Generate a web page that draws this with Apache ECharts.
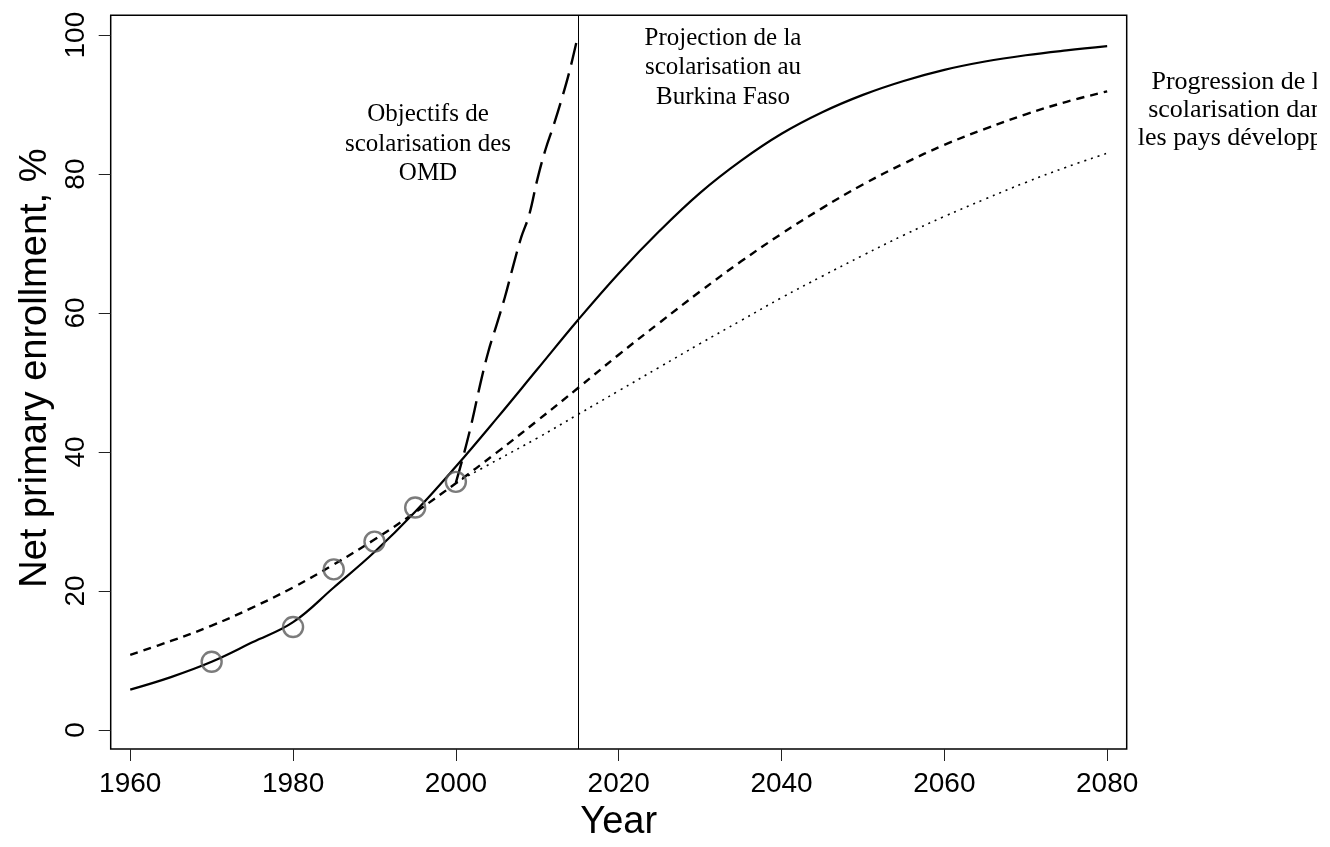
<!DOCTYPE html>
<html>
<head>
<meta charset="utf-8">
<script src="https://cdn.jsdelivr.net/npm/echarts@6/dist/echarts.min.js"></script>
<style>
html,body{margin:0;padding:0;background:#fff;}
#chart{width:1330px;height:847px;}
</style>
</head>
<body>
<div id="chart"></div>
<script>
// ---- data ----
const years = [1960,1965,1970,1975,1980,1985,1990,1995,2000,2005,2010,2015,2020,2025,2030,2035,2040,2045,2050,2055,2060,2065,2070,2075,2080];
const burkinaFit = [5.8,7.6,9.8,12.6,15.5,20.5,25.6,31.4,37.9,44.8,51.9,59.0,65.7,71.8,77.3,81.9,85.8,88.9,91.4,93.4,95.0,96.2,97.1,97.8,98.4];
const developedFit = [10.8,12.8,15.0,17.6,20.5,23.8,27.4,31.3,35.5,39.9,44.5,49.2,54.0,58.6,63.1,67.4,71.4,75.1,78.5,81.5,84.2,86.5,88.6,90.4,91.9];
const slowYears = [2000,2005,2010,2015,2020,2025,2030,2035,2040,2045,2050,2055,2060,2065,2070,2075,2080];
const slowFit = [35.6,38.8,42.0,45.4,48.8,52.2,55.6,58.9,62.2,65.3,68.3,71.2,73.9,76.4,78.8,81.0,83.0];
const mdgYears = [2000,2001,2002,2003,2004,2005,2006,2007,2008,2009,2010,2011,2012,2013,2014,2015];
const mdgVals = [35.6,39.8,44.5,49.8,54.5,58.3,62.2,66.6,70.8,74.1,79.2,83.5,87.0,90.8,95.0,100.0];
const obsYears = [1970,1980,1985,1990,1995,2000];
const obsVals = [9.8,14.8,23.1,27.1,32.0,35.7];
const xTicks = [1960,1980,2000,2020,2040,2060,2080];
const yTicks = [0,20,40,60,80,100];
const cutYear = 2015;
const labelMdg = 'Objectifs de\nscolarisation des\nOMD';
const labelProj = 'Projection de la\nscolarisation au\nBurkina Faso';
const labelDev = 'Progression de la\nscolarisation dans\nles pays développés';

const pairs = (xs, ys) => xs.map((x, i) => [x, ys[i]]);

const chart = echarts.init(document.getElementById('chart'), null, {renderer: 'canvas'});
const serif = '"Liberation Serif", "Times New Roman", serif';
const sans = '"Liberation Sans", Arial, Helvetica, sans-serif';
const plain = v => String(v);

chart.setOption({
  animation: false,
  backgroundColor: '#fff',
  grid: {left: 110.7, right: 203.3, top: 15.3, bottom: 91.7, show: true, borderColor: '#000', borderWidth: 1.5, backgroundColor: 'transparent'},
  xAxis: {
    type: 'value', min: 1957.6, max: 2082.4,
    name: 'Year', nameLocation: 'middle', nameGap: 55,
    nameTextStyle: {fontFamily: sans, fontSize: 38, color: '#000'},
    axisLine: {show: false, onZero: false},
    axisTick: {show: true, inside: false, length: 12, customValues: xTicks, lineStyle: {color: '#222', width: 1}},
    axisLabel: {customValues: xTicks, formatter: plain, fontFamily: sans, fontSize: 28, color: '#000', margin: 21},
    splitLine: {show: false}
  },
  yAxis: {
    type: 'value', min: -2.75, max: 102.85,
    name: 'Net primary enrollment, %', nameLocation: 'middle', nameGap: 54,
    nameTextStyle: {fontFamily: sans, fontSize: 38, color: '#000', padding: [0, 0, 0, 28]},
    axisLine: {show: false, onZero: false},
    axisTick: {show: true, inside: false, length: 12, customValues: yTicks, lineStyle: {color: '#222', width: 1}},
    axisLabel: {customValues: yTicks, formatter: plain, rotate: 90, fontFamily: sans, fontSize: 28, color: '#000', margin: 20},
    splitLine: {show: false}
  },
  series: [
    {
      type: 'line', data: pairs(years, burkinaFit), smooth: 0.4, symbol: 'none',
      lineStyle: {color: '#000', width: 2.2},
      markLine: {silent: true, symbol: 'none', label: {show: false},
        lineStyle: {color: '#000', width: 1, type: 'solid'}, data: [{xAxis: cutYear}]},
      z: 3
    },
    {
      type: 'line', data: pairs(years, developedFit), smooth: 0.4, symbol: 'none',
      lineStyle: {color: '#000', width: 2.4, type: [8, 6], cap: 'butt'}, z: 3
    },
    {
      type: 'line', data: pairs(slowYears, slowFit), smooth: 0.4, symbol: 'none',
      lineStyle: {color: '#000', width: 1.6, type: [2, 5], cap: 'butt'}, z: 3
    },
    {
      type: 'line', data: pairs(mdgYears, mdgVals), smooth: 0.4, symbol: 'none',
      lineStyle: {color: '#000', width: 2.4, type: [22, 9], cap: 'butt'}, z: 3
    },
    {
      type: 'scatter', data: pairs(obsYears, obsVals), symbol: 'circle', symbolSize: 20,
      itemStyle: {color: 'rgba(0,0,0,0)', borderColor: '#5a5a5a', borderWidth: 2.4}, z: 4
    }
  ],
  graphic: [
    {type: 'text', x: 428, y: 144, style: {text: labelMdg, align: 'center', verticalAlign: 'middle', font: '25px ' + serif, fill: '#000', lineHeight: 29.5}},
    {type: 'text', x: 723, y: 67.5, style: {text: labelProj, align: 'center', verticalAlign: 'middle', font: '25px ' + serif, fill: '#000', lineHeight: 29.5}},
    {type: 'text', x: 1241, y: 110, z: 10, style: {text: labelDev, align: 'center', verticalAlign: 'middle', font: '26px ' + serif, fill: '#000', lineHeight: 28}},
    {type: 'rect', z: 20, shape: {x: 1317, y: 0, width: 13, height: 200}, style: {fill: '#fff'}}
  ]
});
</script>
</body>
</html>
